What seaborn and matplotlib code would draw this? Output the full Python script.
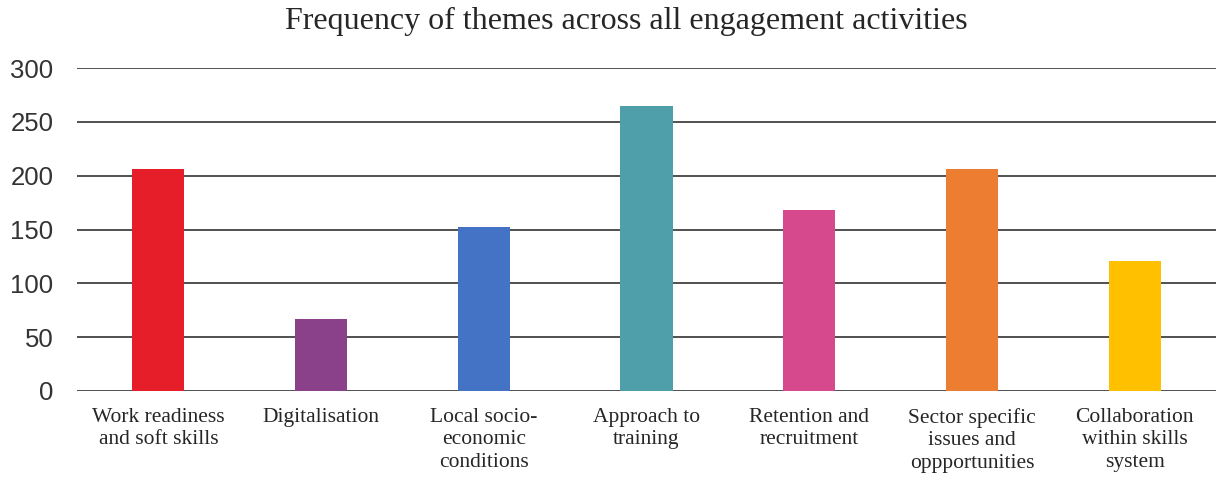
import matplotlib
matplotlib.use("Agg")
import matplotlib.pyplot as plt
import seaborn as sns
import pandas as pd

themes = [
    "Work readiness\nand soft skills",
    "Digitalisation",
    "Local socio-\neconomic\nconditions",
    "Approach to\ntraining",
    "Retention and\nrecruitment",
    "Sector specific\nissues and\noppportunities",
    "Collaboration\nwithin skills\nsystem",
]
counts = [206, 67, 152, 265, 168, 206, 121]
colors = ["#E61E29", "#8A4189", "#4472C4", "#4E9FAA", "#D6498D", "#ED7D31", "#FFC000"]
y_ticks = [0, 50, 100, 150, 200, 250, 300]

df = pd.DataFrame({"theme": themes, "count": counts})

sns.set_style("white")
plt.rcParams["font.family"] = ["Liberation Serif", "DejaVu Serif"]

fig = plt.figure(figsize=(12.16, 4.79), dpi=100)
ax = fig.add_axes([77 / 1216, 1 - 391 / 479, 1 - 77 / 1216, (391 - 68) / 479])

sns.barplot(data=df, x="theme", y="count", hue="theme", palette=colors,
            width=0.32, legend=False, ax=ax, saturation=1, linewidth=0)

ax.set_xlim(-0.5, 6.5)
ax.set_ylim(0, 300)
ax.set_yticks(y_ticks)
ax.set_yticklabels([str(v) for v in y_ticks], fontfamily="Liberation Sans",
                   fontsize=18.5, color="#333333")
ax.yaxis.grid(True, color="#505050", linewidth=1.4)
ax.set_axisbelow(True)
for s in ax.spines.values():
    s.set_visible(False)
ax.tick_params(axis="both", length=0)
ax.tick_params(axis="y", pad=17)
ax.tick_params(axis="x", pad=12)
for lbl in ax.get_xticklabels():
    lbl.set_fontsize(15.5)
    lbl.set_linespacing(1.27)
    lbl.set_color("#262626")
ax.set_xlabel("")
ax.set_ylabel("")

fig.text(626 / 1216, 1 - 21 / 479,
         "Frequency of themes across all engagement activities",
         ha="center", va="center", fontsize=23, color="#262626")

fig.savefig("out.png", dpi=100)
